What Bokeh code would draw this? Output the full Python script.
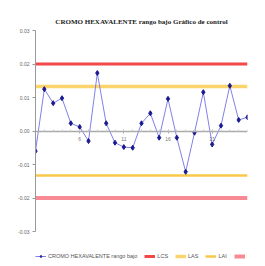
from bokeh.plotting import figure
from bokeh.models import ColumnDataSource, FixedTicker, Legend, LegendItem, Range1d, CustomJSTickFormatter
from bokeh.embed import file_html
from bokeh.resources import INLINE

# data
samples = list(range(1, 26))
values = [-0.0060, 0.0125, 0.0083, 0.0098, 0.0023, 0.0012, -0.0030, 0.0173, 0.0023, -0.0035,
          -0.0048, -0.0050, 0.0023, 0.0053, -0.0020, 0.0096, -0.0020, -0.0122, -0.0005, 0.0116,
          -0.0040, 0.0016, 0.0135, 0.0033, 0.0041]
x_tick_pos = [1, 6, 11, 16, 21]
x_tick_labels = ["1", "6", "11", "16", "21"]
y_ticks = [-0.03, -0.02, -0.01, 0.0, 0.01, 0.02, 0.03]
lcs = 0.02
las = 0.0133
lai = -0.0133
lci = -0.02
series_name = "CROMO HEXAVALENTE rango bajo"
title = "CROMO HEXAVALENTE rango bajo Gráfico de control"

# frame extended downward to host the legend; y axis line bounded to the data range
y_min, y_max = -0.03, 0.03
px_per_unit = 201 / (y_max - y_min)
legend_room = 31
p = figure(frame_width=212, frame_height=201 + legend_room, output_backend="svg",
           toolbar_location=None, x_range=Range1d(1, 25),
           y_range=Range1d(y_min - legend_room / px_per_unit, y_max))
p.min_border_left = 35
p.min_border_right = 8
p.min_border_top = 30
p.min_border_bottom = 2
p.outline_line_color = None
p.xgrid.visible = False
p.ygrid.visible = False

p.title.text = title
p.title.align = "center"
p.title.text_font = "Liberation Sans Narrow"
p.title.text_font_size = "7px"
p.title.text_font_style = "bold"
p.title.text_color = "#222222"

src = ColumnDataSource(dict(x=samples, y=values))
xs = [samples[0], samples[-1]]
r_lcs = p.line(xs, [lcs, lcs], line_color="#f24848", line_width=3)
r_las = p.line(xs, [las, las], line_color="#fbd46c", line_width=3.5)
r_lai = p.line(xs, [lai, lai], line_color="#f8c84a", line_width=2.5)
r_lci = p.line(xs, [lci, lci], line_color="#f78a94", line_width=4)
r_ln = p.line("x", "y", source=src, line_color="#8080e8", line_width=1)
r_pt = p.scatter("x", "y", source=src, marker="diamond", size=5, fill_color="#1a1a90",
                 line_color="#1a1a90")

# y axis
p.yaxis.bounds = (y_min, y_max)
p.yaxis.ticker = FixedTicker(ticks=y_ticks)
p.yaxis.formatter = CustomJSTickFormatter(code="return tick.toFixed(2);")
p.yaxis.major_label_text_font_size = "5px"
p.yaxis.major_label_text_color = "#666666"
p.yaxis.axis_line_color = "#999999"
p.yaxis.major_tick_line_color = "#999999"
p.yaxis.major_tick_in = 0
p.yaxis.major_tick_out = 3
p.yaxis.minor_tick_line_color = None
p.yaxis.major_label_standoff = 3

# x axis at zero
p.xaxis.fixed_location = 0
p.xaxis.ticker = FixedTicker(ticks=x_tick_pos, minor_ticks=samples)
p.xaxis.major_label_overrides = {pos: lab for pos, lab in zip(x_tick_pos, x_tick_labels)}
p.xaxis.major_label_text_font_size = "5px"
p.xaxis.major_label_text_color = "#777777"
p.xaxis.axis_line_color = "#aaaaaa"
p.xaxis.axis_line_width = 1.5
p.xaxis.major_tick_line_color = "#aaaaaa"
p.xaxis.minor_tick_line_color = "#cccccc"
p.xaxis.major_tick_in = 2
p.xaxis.major_tick_out = 2
p.xaxis.minor_tick_in = 2
p.xaxis.minor_tick_out = 0
p.xaxis.major_label_standoff = 4

legend = Legend(items=[
    LegendItem(label=series_name, renderers=[r_ln, r_pt]),
    LegendItem(label="LCS", renderers=[r_lcs]),
    LegendItem(label="LAS", renderers=[r_las]),
    LegendItem(label="LAI", renderers=[r_lai]),
    LegendItem(label="LCI", renderers=[r_lci]),
], orientation="horizontal", label_text_font_size="5.5px", label_text_color="#555555",
    glyph_width=11, glyph_height=6, label_standoff=2, spacing=7, padding=0, margin=0,
    label_width=1, label_height=6, border_line_color=None, background_fill_alpha=0,
    location=(0, 3))
p.add_layout(legend, "center")

open("out.html", "w").write(file_html(p, INLINE))
